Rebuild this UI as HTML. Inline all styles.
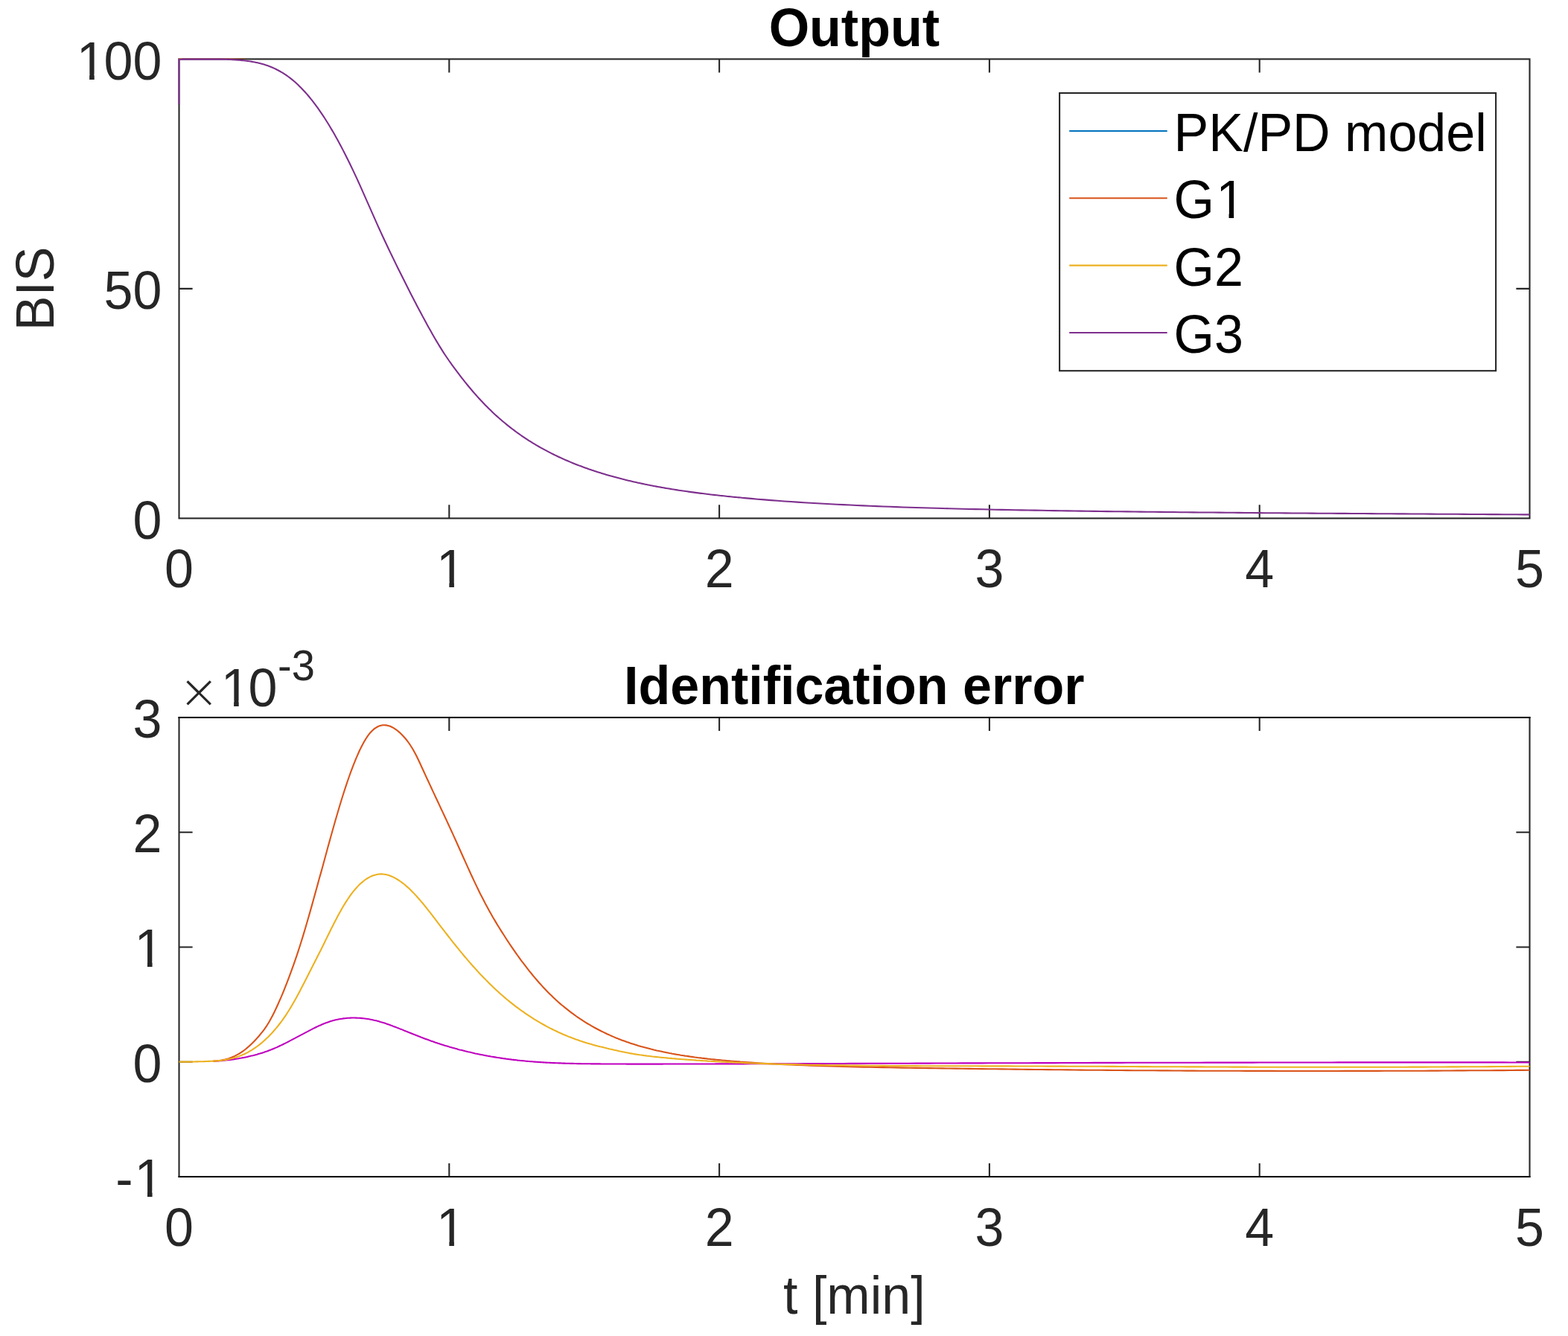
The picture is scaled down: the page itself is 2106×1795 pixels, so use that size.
<!DOCTYPE html>
<html lang="en"><head><meta charset="utf-8"><title>Output and identification error</title>
<style>html,body{margin:0;padding:0;background:#fff}body{width:2106px;height:1795px;overflow:hidden}svg{display:block}text{font-family:"Liberation Sans", sans-serif;white-space:pre}</style>
</head><body>
<svg width="2106" height="1795" viewBox="0 0 2106 1795" role="img" aria-label="Output and identification error plots">
<rect width="2106" height="1795" fill="#fff"/>
<path d="M603.30 696.40v-18.10M603.30 79.40v18.10M966.10 696.40v-18.10M966.10 79.40v18.10M1328.90 696.40v-18.10M1328.90 79.40v18.10M1691.70 696.40v-18.10M1691.70 79.40v18.10M240.50 387.90h18.10M2054.50 387.90h-18.10" stroke="#262626" stroke-width="2.08" fill="none"/>
<rect x="240.50" y="79.40" width="1814.00" height="617.00" fill="none" stroke="#262626" stroke-width="2.08"/>
<path d="M243.50 78.65H330.00" stroke="#D95319" stroke-opacity="0.55" stroke-width="1" fill="none"/>
<path d="M239.46 78.90H244.50" stroke="#EDB120" stroke-width="1.6" fill="none"/>
<path d="M240.40 140.50V79.65L250.00 79.65L251.88 79.65L253.76 79.65L255.64 79.65L257.52 79.65L259.40 79.65L261.28 79.65L263.16 79.65L265.04 79.65L266.92 79.65L268.80 79.65L270.68 79.65L272.56 79.65L274.44 79.65L276.32 79.65L278.20 79.65L280.08 79.65L281.95 79.65L283.83 79.65L285.71 79.65L287.59 79.65L289.47 79.65L291.35 79.65L293.23 79.65L295.11 79.65L296.99 79.65L298.87 79.66L300.75 79.69L302.63 79.74L304.51 79.79L306.39 79.86L308.27 79.93L310.15 80.02L312.03 80.12L313.91 80.22L315.79 80.35L317.67 80.48L319.55 80.63L321.43 80.78L323.31 80.96L325.19 81.14L327.07 81.34L328.95 81.56L330.83 81.78L332.71 82.02L334.59 82.28L336.47 82.56L338.35 82.86L340.23 83.19L342.11 83.54L343.98 83.91L345.86 84.32L347.74 84.75L349.62 85.22L351.50 85.72L353.38 86.25L355.26 86.82L357.14 87.43L359.02 88.07L360.90 88.76L362.78 89.48L364.66 90.25L366.54 91.06L368.42 91.91L370.30 92.80L372.18 93.75L374.06 94.73L375.94 95.76L377.82 96.84L379.70 97.97L381.58 99.14L383.46 100.37L385.34 101.65L387.22 102.98L389.10 104.38L390.98 105.83L392.86 107.36L394.74 108.94L396.62 110.58L398.50 112.29L400.38 114.06L402.26 115.88L404.14 117.77L406.02 119.71L407.89 121.71L409.77 123.76L411.65 125.88L413.53 128.05L415.41 130.29L417.29 132.58L419.17 134.93L421.05 137.35L422.93 139.82L424.81 142.35L426.69 144.94L428.57 147.60L430.45 150.31L432.33 153.08L434.21 155.92L436.09 158.80L437.97 161.75L439.85 164.76L441.73 167.81L443.61 170.93L445.49 174.10L447.37 177.32L449.25 180.60L451.13 183.93L453.01 187.32L454.89 190.75L456.77 194.24L458.65 197.78L460.53 201.37L462.41 205.01L464.29 208.70L466.17 212.44L468.05 216.22L469.92 220.06L471.80 223.94L473.68 227.86L475.56 231.84L477.44 235.86L479.32 239.92L481.20 244.03L483.08 248.19L484.96 252.37L486.84 256.59L488.72 260.83L490.60 265.08L492.48 269.35L494.36 273.62L496.24 277.90L498.12 282.18L500.00 286.44L501.88 290.70L503.76 294.93L505.64 299.15L507.52 303.34L509.40 307.50L511.28 311.62L513.16 315.71L515.04 319.77L516.92 323.80L518.80 327.80L520.68 331.77L522.56 335.71L524.44 339.63L526.32 343.53L528.20 347.41L530.08 351.27L531.95 355.11L533.83 358.93L535.71 362.74L537.59 366.53L539.47 370.31L541.35 374.08L543.23 377.84L545.11 381.58L546.99 385.31L548.87 389.03L550.75 392.73L552.63 396.41L554.51 400.07L556.39 403.71L558.27 407.34L560.15 410.94L562.03 414.52L563.91 418.08L565.79 421.61L567.67 425.12L569.55 428.61L571.43 432.06L573.31 435.49L575.19 438.90L577.07 442.27L578.95 445.61L580.83 448.92L582.71 452.19L584.59 455.42L586.47 458.60L588.35 461.74L590.23 464.84L592.11 467.88L593.98 470.88L595.86 473.82L597.74 476.70L599.62 479.52L601.50 482.29L603.38 484.99L605.26 487.65L607.14 490.27L609.02 492.85L610.90 495.41L612.78 497.94L614.66 500.44L616.54 502.92L618.42 505.37L620.30 507.79L622.18 510.19L624.06 512.56L625.94 514.91L627.82 517.22L629.70 519.51L631.58 521.77L633.46 524.00L635.34 526.20L637.22 528.37L639.10 530.51L640.98 532.63L642.86 534.71L644.74 536.77L646.62 538.79L648.50 540.78L650.38 542.75L652.26 544.68L654.14 546.58L656.02 548.46L657.89 550.30L659.77 552.12L661.65 553.91L663.53 555.67L665.41 557.40L667.29 559.11L669.17 560.79L671.05 562.45L672.93 564.08L674.81 565.68L676.69 567.26L678.57 568.82L680.45 570.35L682.33 571.87L684.21 573.35L686.09 574.82L687.97 576.26L689.85 577.68L691.73 579.09L693.61 580.47L695.49 581.82L697.37 583.16L699.25 584.48L701.13 585.78L703.01 587.07L704.89 588.33L706.77 589.57L708.65 590.80L710.53 592.01L712.41 593.20L714.29 594.37L716.17 595.52L718.05 596.66L719.92 597.78L721.80 598.89L723.68 599.98L725.56 601.05L727.44 602.11L729.32 603.16L731.20 604.18L733.08 605.20L734.96 606.20L736.84 607.18L738.72 608.15L740.60 609.11L742.48 610.05L744.36 610.98L746.24 611.89L748.12 612.80L750.00 613.69L751.88 614.56L753.76 615.43L755.64 616.28L757.52 617.12L759.40 617.95L761.28 618.77L763.16 619.57L765.04 620.37L766.92 621.15L768.80 621.92L770.68 622.68L772.56 623.43L774.44 624.18L776.32 624.91L778.20 625.63L780.08 626.34L781.95 627.04L783.83 627.73L785.71 628.41L787.59 629.09L789.47 629.75L791.35 630.40L793.23 631.05L795.11 631.69L796.99 632.32L798.87 632.94L800.75 633.55L802.63 634.16L804.51 634.76L806.39 635.35L808.27 635.93L810.15 636.50L812.03 637.07L813.91 637.63L815.79 638.18L817.67 638.73L819.55 639.26L821.43 639.79L823.31 640.32L825.19 640.84L827.07 641.35L828.95 641.85L830.83 642.35L832.71 642.84L834.59 643.32L836.47 643.80L838.35 644.27L840.23 644.74L842.11 645.20L843.98 645.65L845.86 646.10L847.74 646.55L849.62 646.98L851.50 647.41L853.38 647.84L855.26 648.26L857.14 648.68L859.02 649.09L860.90 649.49L862.78 649.89L864.66 650.28L866.54 650.67L868.42 651.06L870.30 651.44L872.18 651.81L874.06 652.18L875.94 652.55L877.82 652.91L879.70 653.26L881.58 653.61L883.46 653.96L885.34 654.30L887.22 654.64L889.10 654.98L890.98 655.31L892.86 655.63L894.74 655.95L896.62 656.27L898.50 656.59L900.38 656.90L902.26 657.20L904.14 657.51L906.02 657.80L907.89 658.10L909.77 658.39L911.65 658.68L913.53 658.96L915.41 659.25L917.29 659.52L919.17 659.80L921.05 660.07L922.93 660.34L924.81 660.60L926.69 660.86L928.57 661.12L930.45 661.38L932.33 661.63L934.21 661.88L936.09 662.13L937.97 662.37L939.85 662.61L941.73 662.85L943.61 663.09L945.49 663.32L947.37 663.55L949.25 663.78L951.13 664.00L953.01 664.23L954.89 664.45L956.77 664.67L958.65 664.88L960.53 665.10L962.41 665.31L964.29 665.52L966.17 665.72L968.05 665.93L969.92 666.13L971.80 666.33L973.68 666.53L975.56 666.72L977.44 666.92L979.32 667.11L981.20 667.30L983.08 667.49L984.96 667.68L986.84 667.86L988.72 668.04L990.60 668.23L992.48 668.41L994.36 668.58L996.24 668.76L998.12 668.93L1000.00 669.11L1008.86 669.90L1017.72 670.67L1026.58 671.40L1035.45 672.10L1044.31 672.77L1053.17 673.42L1062.03 674.04L1070.89 674.63L1079.75 675.20L1088.61 675.74L1097.47 676.27L1106.34 676.77L1115.20 677.25L1124.06 677.71L1132.92 678.16L1141.78 678.58L1150.64 678.99L1159.50 679.38L1168.37 679.76L1177.23 680.12L1186.09 680.46L1194.95 680.80L1203.81 681.12L1212.67 681.42L1221.53 681.72L1230.39 682.00L1239.26 682.27L1248.12 682.54L1256.98 682.79L1265.84 683.03L1274.70 683.27L1283.56 683.49L1292.42 683.71L1301.29 683.92L1310.15 684.12L1319.01 684.31L1327.87 684.50L1336.73 684.69L1345.59 684.86L1354.45 685.03L1363.32 685.20L1372.18 685.36L1381.04 685.51L1389.90 685.66L1398.76 685.81L1407.62 685.95L1416.48 686.09L1425.34 686.23L1434.21 686.36L1443.07 686.49L1451.93 686.62L1460.79 686.74L1469.65 686.86L1478.51 686.97L1487.37 687.09L1496.24 687.20L1505.10 687.31L1513.96 687.41L1522.82 687.51L1531.68 687.61L1540.54 687.71L1549.40 687.81L1558.26 687.90L1567.13 687.99L1575.99 688.08L1584.85 688.17L1593.71 688.26L1602.57 688.34L1611.43 688.42L1620.29 688.50L1629.16 688.58L1638.02 688.66L1646.88 688.74L1655.74 688.81L1664.60 688.88L1673.46 688.96L1682.32 689.03L1691.18 689.10L1700.05 689.17L1708.91 689.23L1717.77 689.30L1726.63 689.36L1735.49 689.43L1744.35 689.49L1753.21 689.55L1762.08 689.62L1770.94 689.68L1779.80 689.74L1788.66 689.80L1797.52 689.86L1806.38 689.91L1815.24 689.97L1824.11 690.03L1832.97 690.08L1841.83 690.14L1850.69 690.19L1859.55 690.25L1868.41 690.30L1877.27 690.36L1886.13 690.41L1895.00 690.46L1903.86 690.52L1912.72 690.57L1921.58 690.62L1930.44 690.67L1939.30 690.73L1948.16 690.78L1957.03 690.83L1965.89 690.88L1974.75 690.93L1983.61 690.98L1992.47 691.03L2001.33 691.09L2010.19 691.14L2019.05 691.19L2027.92 691.24L2036.78 691.29L2045.64 691.34L2054.50 691.39" fill="none" stroke="#7E2F8E" stroke-width="2.08" stroke-linejoin="miter"/>
<g transform="translate(217.40 724.00) scale(1 1.0250)">
<text x="-38.93" y="0" font-size="70.00" fill="#262626">0</text>
</g>
<g transform="translate(217.40 415.00) scale(1 1.0250)">
<text x="-77.86 -38.93" y="0" font-size="70.00" fill="#262626">50</text>
</g>
<g transform="translate(217.40 107.00) scale(1 1.0250)">
<text x="-114.69 -77.86 -38.93" y="0" font-size="70.00" fill="#262626">100</text>
<rect x="-110.56" y="-7.43" width="13.27" height="8.63" fill="#fff"/>
<rect x="-90.70" y="-7.43" width="12.72" height="8.63" fill="#fff"/>
</g>
<g transform="translate(240.50 789.20) scale(1 1.0250)">
<text x="-19.47" y="0" font-size="70.00" fill="#262626">0</text>
</g>
<g transform="translate(603.30 789.20) scale(1 1.0250)">
<text x="-17.37" y="0" font-size="70.00" fill="#262626">1</text>
<rect x="-13.23" y="-7.43" width="13.27" height="8.63" fill="#fff"/>
<rect x="6.62" y="-7.43" width="12.72" height="8.63" fill="#fff"/>
</g>
<g transform="translate(966.10 789.20) scale(1 1.0250)">
<text x="-19.47" y="0" font-size="70.00" fill="#262626">2</text>
</g>
<g transform="translate(1328.90 789.20) scale(1 1.0250)">
<text x="-19.47" y="0" font-size="70.00" fill="#262626">3</text>
</g>
<g transform="translate(1691.70 789.20) scale(1 1.0250)">
<text x="-19.47" y="0" font-size="70.00" fill="#262626">4</text>
</g>
<g transform="translate(2054.50 789.20) scale(1 1.0250)">
<text x="-19.47" y="0" font-size="70.00" fill="#262626">5</text>
</g>
<text transform="translate(71.80 387.90) rotate(-90) scale(1 1.0400)" text-anchor="middle" font-size="70.00" font-weight="normal" fill="#262626">BIS</text>
<text transform="translate(1147.30 62.00) scale(1 1.0400)" text-anchor="middle" font-size="70.00" font-weight="bold" fill="#000">Output</text>
<rect x="1423.10" y="125.00" width="586.00" height="373.20" fill="#fff" stroke="#262626" stroke-width="2.08"/>
<path d="M1436.2 176.00H1567.7" stroke="#0072BD" stroke-width="2.08"/>
<text transform="translate(1576.60 203.10) scale(1 1.0400)" text-anchor="start" font-size="70.00" font-weight="normal" fill="#000">PK/PD model</text>
<path d="M1436.2 266.33H1567.7" stroke="#D95319" stroke-width="2.08"/>
<g transform="translate(1576.60 293.45) scale(1 1.0400)">
<text x="0.00 56.55" y="0" font-size="70.00" fill="#000">G1</text>
<rect x="60.68" y="-7.43" width="13.27" height="8.63" fill="#fff"/>
<rect x="80.54" y="-7.43" width="12.72" height="8.63" fill="#fff"/>
</g>
<path d="M1436.2 356.66H1567.7" stroke="#EDB120" stroke-width="2.08"/>
<text transform="translate(1576.60 383.80) scale(1 1.0400)" text-anchor="start" font-size="70.00" font-weight="normal" fill="#000">G2</text>
<path d="M1436.2 446.99H1567.7" stroke="#7E2F8E" stroke-width="2.08"/>
<text transform="translate(1576.60 474.15) scale(1 1.0400)" text-anchor="start" font-size="70.00" font-weight="normal" fill="#000">G3</text>
<path d="M603.30 1581.00v-18.10M603.30 964.00v18.10M966.10 1581.00v-18.10M966.10 964.00v18.10M1328.90 1581.00v-18.10M1328.90 964.00v18.10M1691.70 1581.00v-18.10M1691.70 964.00v18.10M240.50 1426.75h18.10M2054.50 1426.75h-18.10M240.50 1272.50h18.10M2054.50 1272.50h-18.10M240.50 1118.25h18.10M2054.50 1118.25h-18.10" stroke="#262626" stroke-width="2.08" fill="none"/>
<rect x="240.50" y="964.00" width="1814.00" height="617.00" fill="none" stroke="#262626" stroke-width="2.08"/>
<path d="M239.46 964.00H2055.54M239.46 1581.00H2055.54" stroke="#0a0a0a" stroke-width="2.08" fill="none"/>
<path d="M286.2 1425.8L288.1 1425.7L290.0 1425.6L291.9 1425.5L293.8 1425.4L295.7 1425.2L297.6 1425.1L299.5 1424.9L301.4 1424.7L303.3 1424.5L305.2 1424.3L307.1 1424.1L309.0 1423.9L310.9 1423.6L312.8 1423.4L314.7 1423.1L316.6 1422.8L318.5 1422.5L320.4 1422.2L322.4 1421.8L324.3 1421.5L326.2 1421.1L328.1 1420.8L330.0 1420.4L331.9 1420.0L333.8 1419.5L335.7 1419.1L337.6 1418.6L339.5 1418.2L341.4 1417.7L343.3 1417.2L345.2 1416.7L347.1 1416.1L349.0 1415.6L350.9 1415.0L352.8 1414.4L354.7 1413.8L356.6 1413.1L358.5 1412.5L360.4 1411.8L362.3 1411.0L364.2 1410.3L366.1 1409.5L368.0 1408.7L369.9 1407.9L371.8 1407.1L373.7 1406.2L375.6 1405.3L377.6 1404.4L379.5 1403.5L381.4 1402.5L383.3 1401.6L385.2 1400.6L387.1 1399.7L389.0 1398.7L390.9 1397.7L392.8 1396.7L394.7 1395.7L396.6 1394.7L398.5 1393.7L400.4 1392.7L402.3 1391.7L404.2 1390.6L406.1 1389.6L408.0 1388.6L409.9 1387.6L411.8 1386.6L413.7 1385.6L415.6 1384.6L417.5 1383.6L419.4 1382.6L421.3 1381.6L423.2 1380.7L425.1 1379.8L427.0 1378.9L428.9 1378.0L430.9 1377.2L432.8 1376.3L434.7 1375.5L436.6 1374.8L438.5 1374.1L440.4 1373.4L442.3 1372.7L444.2 1372.1L446.1 1371.6L448.0 1371.0L449.9 1370.5L451.8 1370.1L453.7 1369.7L455.6 1369.3L457.5 1369.0L459.4 1368.7L461.3 1368.4L463.2 1368.2L465.1 1368.0L467.0 1367.8L468.9 1367.7L470.8 1367.6L472.7 1367.5L474.6 1367.5L476.5 1367.5L478.4 1367.6L480.3 1367.7L482.2 1367.8L484.1 1367.9L486.1 1368.1L488.0 1368.3L489.9 1368.5L491.8 1368.7L493.7 1369.0L495.6 1369.3L497.5 1369.7L499.4 1370.1L501.3 1370.5L503.2 1370.9L505.1 1371.3L507.0 1371.8L508.9 1372.3L510.8 1372.9L512.7 1373.4L514.6 1374.0L516.5 1374.6L518.4 1375.3L520.3 1375.9L522.2 1376.6L524.1 1377.2L526.0 1377.9L527.9 1378.7L529.8 1379.4L531.7 1380.1L533.6 1380.9L535.5 1381.6L537.4 1382.4L539.4 1383.1L541.3 1383.9L543.2 1384.7L545.1 1385.4L547.0 1386.2L548.9 1387.0L550.8 1387.7L552.7 1388.5L554.6 1389.3L556.5 1390.0L558.4 1390.8L560.3 1391.5L562.2 1392.3L564.1 1393.0L566.0 1393.8L567.9 1394.5L569.8 1395.2L571.7 1395.9L573.6 1396.6L575.5 1397.3L577.4 1398.0L579.3 1398.7L581.2 1399.3L583.1 1400.0L585.0 1400.7L586.9 1401.3L588.8 1401.9L590.7 1402.6L592.6 1403.2L594.6 1403.8L596.5 1404.4L598.4 1405.0L600.3 1405.5L602.2 1406.1L604.1 1406.7L606.0 1407.2L607.9 1407.8L609.8 1408.3L611.7 1408.8L613.6 1409.3L615.5 1409.9L617.4 1410.4L619.3 1410.8L621.2 1411.3L623.1 1411.8L625.0 1412.3L626.9 1412.7L628.8 1413.2L630.7 1413.6L632.6 1414.1L634.5 1414.5L636.4 1414.9L638.3 1415.4L640.2 1415.8L642.1 1416.2L644.0 1416.6L645.9 1416.9L647.9 1417.3L649.8 1417.7L651.7 1418.1L653.6 1418.4L655.5 1418.8L657.4 1419.1L659.3 1419.5L661.2 1419.8L663.1 1420.1L665.0 1420.4L666.9 1420.7L668.8 1421.0L670.7 1421.3L672.6 1421.6L674.5 1421.9L676.4 1422.2L678.3 1422.4L680.2 1422.7L682.1 1422.9L684.0 1423.2L685.9 1423.4L687.8 1423.7L689.7 1423.9L691.6 1424.1L693.5 1424.3L695.4 1424.6L697.3 1424.8L699.2 1425.0L701.1 1425.1L703.1 1425.3L705.0 1425.5L706.9 1425.7L708.8 1425.9L710.7 1426.0L712.6 1426.2L714.5 1426.3L716.4 1426.5L718.3 1426.6L720.2 1426.8L722.1 1426.9L724.0 1427.0L725.9 1427.1L727.8 1427.3L729.7 1427.4L731.6 1427.5L733.5 1427.6L735.4 1427.7L737.3 1427.8L739.2 1427.9L741.1 1428.0L743.0 1428.1L744.9 1428.1L746.8 1428.2L748.7 1428.3L750.6 1428.4L752.5 1428.4L754.4 1428.5L756.4 1428.6L758.3 1428.6L760.2 1428.7L762.1 1428.8L764.0 1428.8L765.9 1428.9L767.8 1428.9L769.7 1428.9L771.6 1429.0L773.5 1429.0L775.4 1429.1L777.3 1429.1L779.2 1429.1L781.1 1429.2L783.0 1429.2L784.9 1429.2L786.8 1429.3L788.7 1429.3L790.6 1429.3L792.5 1429.3L794.4 1429.4L796.3 1429.4L798.2 1429.4L800.1 1429.4L802.0 1429.4L803.9 1429.4L805.8 1429.4L807.7 1429.5L809.6 1429.5L811.6 1429.5L813.5 1429.5L815.4 1429.5L817.3 1429.5L819.2 1429.5L821.1 1429.5L823.0 1429.5L824.9 1429.5L826.8 1429.5L828.7 1429.5L830.6 1429.5L832.5 1429.5L834.4 1429.5L836.3 1429.5L838.2 1429.5L840.1 1429.5L842.0 1429.6L843.9 1429.6L845.8 1429.6L847.7 1429.6L849.6 1429.6L851.5 1429.6L853.4 1429.6L855.3 1429.6L857.2 1429.6L859.1 1429.6L861.0 1429.6L862.9 1429.6L864.9 1429.6L866.8 1429.6L868.7 1429.6L870.6 1429.6L872.5 1429.6L874.4 1429.6L876.3 1429.6L878.2 1429.6L880.1 1429.6L882.0 1429.6L883.9 1429.6L885.8 1429.6L887.7 1429.6L889.6 1429.6L891.5 1429.5L893.4 1429.5L895.3 1429.5L897.2 1429.5L899.1 1429.5L901.0 1429.5L902.9 1429.5L904.8 1429.5L906.7 1429.5L908.6 1429.5L910.5 1429.5L912.4 1429.5L914.3 1429.5L916.2 1429.5L918.1 1429.5L920.1 1429.5L922.0 1429.5L923.9 1429.5L925.8 1429.5L927.7 1429.5L929.6 1429.5L931.5 1429.5L933.4 1429.5L935.3 1429.5L937.2 1429.5L939.1 1429.5L941.0 1429.5L942.9 1429.5L944.8 1429.5L946.7 1429.5L948.6 1429.5L950.5 1429.5L952.4 1429.5L954.3 1429.5L956.2 1429.5L958.1 1429.5L960.0 1429.5L961.9 1429.4L963.8 1429.4L965.7 1429.4L967.6 1429.4L969.5 1429.4L971.4 1429.4L973.4 1429.4L975.3 1429.4L977.2 1429.4L979.1 1429.4L981.0 1429.4L982.9 1429.4L984.8 1429.4L986.7 1429.4L988.6 1429.4L990.5 1429.4L992.4 1429.4L994.3 1429.4L996.2 1429.4L998.1 1429.4L1000.0 1429.4L1008.9 1429.3L1017.7 1429.3L1026.6 1429.3L1035.4 1429.3L1044.3 1429.2L1053.2 1429.2L1062.0 1429.2L1070.9 1429.2L1079.8 1429.1L1088.6 1429.1L1097.5 1429.1L1106.3 1429.0L1115.2 1429.0L1124.1 1429.0L1132.9 1429.0L1141.8 1428.9L1150.6 1428.9L1159.5 1428.9L1168.4 1428.8L1177.2 1428.8L1186.1 1428.8L1194.9 1428.8L1203.8 1428.7L1212.7 1428.7L1221.5 1428.7L1230.4 1428.6L1239.3 1428.6L1248.1 1428.6L1257.0 1428.5L1265.8 1428.5L1274.7 1428.5L1283.6 1428.5L1292.4 1428.4L1301.3 1428.4L1310.1 1428.4L1319.0 1428.4L1327.9 1428.3L1336.7 1428.3L1345.6 1428.3L1354.5 1428.2L1363.3 1428.2L1372.2 1428.2L1381.0 1428.2L1389.9 1428.1L1398.8 1428.1L1407.6 1428.1L1416.5 1428.1L1425.3 1428.0L1434.2 1428.0L1443.1 1428.0L1451.9 1428.0L1460.8 1428.0L1469.7 1427.9L1478.5 1427.9L1487.4 1427.9L1496.2 1427.9L1505.1 1427.9L1514.0 1427.8L1522.8 1427.8L1531.7 1427.8L1540.5 1427.8L1549.4 1427.8L1558.3 1427.7L1567.1 1427.7L1576.0 1427.7L1584.8 1427.7L1593.7 1427.7L1602.6 1427.7L1611.4 1427.7L1620.3 1427.6L1629.2 1427.6L1638.0 1427.6L1646.9 1427.6L1655.7 1427.6L1664.6 1427.6L1673.5 1427.6L1682.3 1427.6L1691.2 1427.5L1700.0 1427.5L1708.9 1427.5L1717.8 1427.5L1726.6 1427.5L1735.5 1427.5L1744.4 1427.5L1753.2 1427.5L1762.1 1427.5L1770.9 1427.5L1779.8 1427.5L1788.7 1427.5L1797.5 1427.4L1806.4 1427.4L1815.2 1427.4L1824.1 1427.4L1833.0 1427.4L1841.8 1427.4L1850.7 1427.4L1859.6 1427.4L1868.4 1427.4L1877.3 1427.4L1886.1 1427.4L1895.0 1427.4L1903.9 1427.4L1912.7 1427.4L1921.6 1427.4L1930.4 1427.4L1939.3 1427.4L1948.2 1427.4L1957.0 1427.4L1965.9 1427.4L1974.7 1427.4L1983.6 1427.4L1992.5 1427.4L2001.3 1427.4L2010.2 1427.4L2019.1 1427.4L2027.9 1427.5L2036.8 1427.5L2045.6 1427.5L2054.5 1427.5" fill="none" stroke="#BF00BF" stroke-width="2.08" stroke-linejoin="round"/>
<path d="M286.2 1425.7L288.1 1425.6L290.0 1425.4L291.9 1425.2L293.8 1425.0L295.7 1424.8L297.6 1424.5L299.5 1424.1L301.4 1423.7L303.3 1423.3L305.2 1422.7L307.1 1422.2L309.0 1421.5L310.9 1420.8L312.8 1420.0L314.7 1419.2L316.6 1418.2L318.5 1417.2L320.4 1416.1L322.4 1415.0L324.3 1413.7L326.2 1412.4L328.1 1411.0L330.0 1409.5L331.9 1407.9L333.8 1406.3L335.7 1404.6L337.6 1402.8L339.5 1400.9L341.4 1399.0L343.3 1397.0L345.2 1394.9L347.1 1392.8L349.0 1390.5L350.9 1388.2L352.8 1385.8L354.7 1383.3L356.6 1380.6L358.5 1377.8L360.4 1374.7L362.3 1371.5L364.2 1368.0L366.1 1364.4L368.0 1360.7L369.9 1356.8L371.8 1352.7L373.7 1348.5L375.6 1344.2L377.6 1339.7L379.5 1335.2L381.4 1330.5L383.3 1325.7L385.2 1320.8L387.1 1315.8L389.0 1310.8L390.9 1305.6L392.8 1300.4L394.7 1295.1L396.6 1289.6L398.5 1284.1L400.4 1278.4L402.3 1272.5L404.2 1266.5L406.1 1260.4L408.0 1254.1L409.9 1247.8L411.8 1241.3L413.7 1234.8L415.6 1228.1L417.5 1221.4L419.4 1214.6L421.3 1207.8L423.2 1200.9L425.1 1194.0L427.0 1187.1L428.9 1180.1L430.9 1173.1L432.8 1166.2L434.7 1159.2L436.6 1152.2L438.5 1145.2L440.4 1138.3L442.3 1131.4L444.2 1124.5L446.1 1117.7L448.0 1111.0L449.9 1104.3L451.8 1097.7L453.7 1091.2L455.6 1084.8L457.5 1078.5L459.4 1072.3L461.3 1066.3L463.2 1060.4L465.1 1054.6L467.0 1049.0L468.9 1043.5L470.8 1038.2L472.7 1033.1L474.6 1028.1L476.5 1023.3L478.4 1018.7L480.3 1014.3L482.2 1010.0L484.1 1005.9L486.1 1002.1L488.0 998.5L489.9 995.1L491.8 992.0L493.7 989.1L495.6 986.5L497.5 984.2L499.4 982.2L501.3 980.4L503.2 978.9L505.1 977.6L507.0 976.5L508.9 975.6L510.8 975.0L512.7 974.5L514.6 974.3L516.5 974.3L518.4 974.4L520.3 974.7L522.2 975.2L524.1 975.8L526.0 976.7L527.9 977.6L529.8 978.8L531.7 980.1L533.6 981.5L535.5 983.1L537.4 984.8L539.4 986.7L541.3 988.7L543.2 990.8L545.1 993.0L547.0 995.4L548.9 998.0L550.8 1000.7L552.7 1003.7L554.6 1006.8L556.5 1010.2L558.4 1013.8L560.3 1017.5L562.2 1021.5L564.1 1025.5L566.0 1029.7L567.9 1033.8L569.8 1038.0L571.7 1042.1L573.6 1046.2L575.5 1050.3L577.4 1054.4L579.3 1058.5L581.2 1062.6L583.1 1066.6L585.0 1070.7L586.9 1074.8L588.8 1078.8L590.7 1082.9L592.6 1087.0L594.6 1091.1L596.5 1095.2L598.4 1099.2L600.3 1103.4L602.2 1107.5L604.1 1111.6L606.0 1115.7L607.9 1119.9L609.8 1124.1L611.7 1128.3L613.6 1132.5L615.5 1136.7L617.4 1141.0L619.3 1145.2L621.2 1149.5L623.1 1153.7L625.0 1157.9L626.9 1162.2L628.8 1166.4L630.7 1170.5L632.6 1174.7L634.5 1178.8L636.4 1182.9L638.3 1186.9L640.2 1190.9L642.1 1194.8L644.0 1198.7L645.9 1202.6L647.9 1206.3L649.8 1210.0L651.7 1213.7L653.6 1217.2L655.5 1220.7L657.4 1224.2L659.3 1227.6L661.2 1230.9L663.1 1234.2L665.0 1237.4L666.9 1240.6L668.8 1243.7L670.7 1246.8L672.6 1249.9L674.5 1252.9L676.4 1255.8L678.3 1258.8L680.2 1261.7L682.1 1264.6L684.0 1267.5L685.9 1270.3L687.8 1273.1L689.7 1275.9L691.6 1278.6L693.5 1281.3L695.4 1284.0L697.3 1286.7L699.2 1289.3L701.1 1291.9L703.1 1294.4L705.0 1296.9L706.9 1299.4L708.8 1301.9L710.7 1304.3L712.6 1306.7L714.5 1309.0L716.4 1311.3L718.3 1313.6L720.2 1315.8L722.1 1318.0L724.0 1320.2L725.9 1322.3L727.8 1324.4L729.7 1326.5L731.6 1328.5L733.5 1330.5L735.4 1332.5L737.3 1334.4L739.2 1336.3L741.1 1338.1L743.0 1339.9L744.9 1341.7L746.8 1343.5L748.7 1345.2L750.6 1346.9L752.5 1348.6L754.4 1350.2L756.4 1351.8L758.3 1353.4L760.2 1354.9L762.1 1356.4L764.0 1357.9L765.9 1359.4L767.8 1360.8L769.7 1362.2L771.6 1363.6L773.5 1365.0L775.4 1366.3L777.3 1367.6L779.2 1368.9L781.1 1370.1L783.0 1371.4L784.9 1372.6L786.8 1373.8L788.7 1375.0L790.6 1376.1L792.5 1377.2L794.4 1378.3L796.3 1379.4L798.2 1380.5L800.1 1381.5L802.0 1382.5L803.9 1383.5L805.8 1384.5L807.7 1385.5L809.6 1386.4L811.6 1387.4L813.5 1388.3L815.4 1389.2L817.3 1390.0L819.2 1390.9L821.1 1391.7L823.0 1392.6L824.9 1393.4L826.8 1394.2L828.7 1394.9L830.6 1395.7L832.5 1396.4L834.4 1397.2L836.3 1397.9L838.2 1398.6L840.1 1399.3L842.0 1400.0L843.9 1400.6L845.8 1401.3L847.7 1401.9L849.6 1402.5L851.5 1403.1L853.4 1403.7L855.3 1404.3L857.2 1404.9L859.1 1405.4L861.0 1406.0L862.9 1406.5L864.9 1407.1L866.8 1407.6L868.7 1408.1L870.6 1408.6L872.5 1409.1L874.4 1409.6L876.3 1410.0L878.2 1410.5L880.1 1410.9L882.0 1411.4L883.9 1411.8L885.8 1412.2L887.7 1412.6L889.6 1413.0L891.5 1413.4L893.4 1413.8L895.3 1414.2L897.2 1414.6L899.1 1415.0L901.0 1415.3L902.9 1415.7L904.8 1416.0L906.7 1416.4L908.6 1416.7L910.5 1417.0L912.4 1417.3L914.3 1417.7L916.2 1418.0L918.1 1418.3L920.1 1418.6L922.0 1418.8L923.9 1419.1L925.8 1419.4L927.7 1419.7L929.6 1419.9L931.5 1420.2L933.4 1420.5L935.3 1420.7L937.2 1421.0L939.1 1421.2L941.0 1421.4L942.9 1421.7L944.8 1421.9L946.7 1422.1L948.6 1422.3L950.5 1422.6L952.4 1422.8L954.3 1423.0L956.2 1423.2L958.1 1423.4L960.0 1423.6L961.9 1423.8L963.8 1424.0L965.7 1424.1L967.6 1424.3L969.5 1424.5L971.4 1424.7L973.4 1424.8L975.3 1425.0L977.2 1425.2L979.1 1425.3L981.0 1425.5L982.9 1425.7L984.8 1425.8L986.7 1426.0L988.6 1426.1L990.5 1426.3L992.4 1426.4L994.3 1426.6L996.2 1426.7L998.1 1426.9L1000.0 1427.0L1008.9 1427.6L1017.7 1428.2L1026.6 1428.7L1035.4 1429.2L1044.3 1429.7L1053.2 1430.1L1062.0 1430.5L1070.9 1430.9L1079.8 1431.3L1088.6 1431.6L1097.5 1431.9L1106.3 1432.2L1115.2 1432.5L1124.1 1432.7L1132.9 1433.0L1141.8 1433.2L1150.6 1433.4L1159.5 1433.6L1168.4 1433.8L1177.2 1434.0L1186.1 1434.1L1194.9 1434.3L1203.8 1434.4L1212.7 1434.6L1221.5 1434.7L1230.4 1434.9L1239.3 1435.0L1248.1 1435.1L1257.0 1435.2L1265.8 1435.4L1274.7 1435.5L1283.6 1435.6L1292.4 1435.7L1301.3 1435.9L1310.1 1436.0L1319.0 1436.1L1327.9 1436.2L1336.7 1436.3L1345.6 1436.4L1354.5 1436.5L1363.3 1436.6L1372.2 1436.8L1381.0 1436.9L1389.9 1437.0L1398.8 1437.0L1407.6 1437.1L1416.5 1437.2L1425.3 1437.3L1434.2 1437.4L1443.1 1437.5L1451.9 1437.6L1460.8 1437.7L1469.7 1437.7L1478.5 1437.8L1487.4 1437.9L1496.2 1438.0L1505.1 1438.0L1514.0 1438.1L1522.8 1438.2L1531.7 1438.2L1540.5 1438.3L1549.4 1438.3L1558.3 1438.4L1567.1 1438.4L1576.0 1438.5L1584.8 1438.5L1593.7 1438.6L1602.6 1438.6L1611.4 1438.7L1620.3 1438.7L1629.2 1438.7L1638.0 1438.8L1646.9 1438.8L1655.7 1438.8L1664.6 1438.8L1673.5 1438.9L1682.3 1438.9L1691.2 1438.9L1700.0 1438.9L1708.9 1438.9L1717.8 1439.0L1726.6 1439.0L1735.5 1439.0L1744.4 1439.0L1753.2 1439.0L1762.1 1439.0L1770.9 1439.0L1779.8 1439.0L1788.7 1439.0L1797.5 1439.0L1806.4 1438.9L1815.2 1438.9L1824.1 1438.9L1833.0 1438.9L1841.8 1438.9L1850.7 1438.9L1859.6 1438.8L1868.4 1438.8L1877.3 1438.8L1886.1 1438.8L1895.0 1438.7L1903.9 1438.7L1912.7 1438.7L1921.6 1438.6L1930.4 1438.6L1939.3 1438.5L1948.2 1438.5L1957.0 1438.4L1965.9 1438.4L1974.7 1438.3L1983.6 1438.3L1992.5 1438.2L2001.3 1438.2L2010.2 1438.1L2019.1 1438.1L2027.9 1438.0L2036.8 1437.9L2045.6 1437.9L2054.5 1437.8" fill="none" stroke="#D95319" stroke-width="2.08" stroke-linejoin="round"/>
<path d="M240.5 1426.6L242.4 1426.6L244.3 1426.6L246.2 1426.6L248.1 1426.6L250.0 1426.6L251.9 1426.6L253.8 1426.6L255.7 1426.6L257.6 1426.6L259.5 1426.5L261.4 1426.5L263.3 1426.4L265.2 1426.4L267.1 1426.3L269.1 1426.3L271.0 1426.2L272.9 1426.2L274.8 1426.1L276.7 1426.0L278.6 1426.0L280.5 1425.9L282.4 1425.8L284.3 1425.7L286.2 1425.6L288.1 1425.5L290.0 1425.4L291.9 1425.3L293.8 1425.1L295.7 1424.9L297.6 1424.7L299.5 1424.5L301.4 1424.2L303.3 1423.9L305.2 1423.5L307.1 1423.1L309.0 1422.7L310.9 1422.3L312.8 1421.8L314.7 1421.2L316.6 1420.7L318.5 1420.0L320.4 1419.4L322.4 1418.6L324.3 1417.9L326.2 1417.0L328.1 1416.2L330.0 1415.3L331.9 1414.3L333.8 1413.3L335.7 1412.2L337.6 1411.1L339.5 1409.9L341.4 1408.6L343.3 1407.3L345.2 1406.0L347.1 1404.6L349.0 1403.1L350.9 1401.6L352.8 1400.0L354.7 1398.3L356.6 1396.6L358.5 1394.8L360.4 1393.0L362.3 1391.0L364.2 1389.1L366.1 1387.0L368.0 1384.8L369.9 1382.6L371.8 1380.3L373.7 1378.0L375.6 1375.5L377.6 1373.0L379.5 1370.4L381.4 1367.6L383.3 1364.9L385.2 1362.0L387.1 1359.0L389.0 1356.0L390.9 1352.9L392.8 1349.6L394.7 1346.3L396.6 1342.9L398.5 1339.5L400.4 1336.0L402.3 1332.4L404.2 1328.8L406.1 1325.1L408.0 1321.4L409.9 1317.7L411.8 1314.0L413.7 1310.3L415.6 1306.5L417.5 1302.8L419.4 1299.1L421.3 1295.3L423.2 1291.5L425.1 1287.8L427.0 1284.0L428.9 1280.2L430.9 1276.4L432.8 1272.5L434.7 1268.7L436.6 1264.8L438.5 1260.9L440.4 1257.0L442.3 1253.2L444.2 1249.3L446.1 1245.5L448.0 1241.8L449.9 1238.1L451.8 1234.4L453.7 1230.8L455.6 1227.3L457.5 1223.9L459.4 1220.5L461.3 1217.3L463.2 1214.1L465.1 1211.1L467.0 1208.2L468.9 1205.4L470.8 1202.7L472.7 1200.1L474.6 1197.7L476.5 1195.4L478.4 1193.2L480.3 1191.1L482.2 1189.1L484.1 1187.3L486.1 1185.6L488.0 1184.0L489.9 1182.5L491.8 1181.2L493.7 1180.0L495.6 1178.9L497.5 1177.9L499.4 1177.0L501.3 1176.3L503.2 1175.7L505.1 1175.2L507.0 1174.8L508.9 1174.5L510.8 1174.4L512.7 1174.4L514.6 1174.5L516.5 1174.7L518.4 1175.1L520.3 1175.5L522.2 1176.1L524.1 1176.8L526.0 1177.5L527.9 1178.4L529.8 1179.3L531.7 1180.4L533.6 1181.5L535.5 1182.7L537.4 1184.0L539.4 1185.4L541.3 1186.8L543.2 1188.3L545.1 1189.9L547.0 1191.6L548.9 1193.3L550.8 1195.1L552.7 1197.0L554.6 1198.9L556.5 1200.9L558.4 1202.9L560.3 1205.0L562.2 1207.2L564.1 1209.3L566.0 1211.6L567.9 1213.8L569.8 1216.1L571.7 1218.5L573.6 1220.9L575.5 1223.3L577.4 1225.7L579.3 1228.1L581.2 1230.6L583.1 1233.1L585.0 1235.6L586.9 1238.1L588.8 1240.6L590.7 1243.1L592.6 1245.6L594.6 1248.1L596.5 1250.6L598.4 1253.1L600.3 1255.5L602.2 1258.0L604.1 1260.4L606.0 1262.9L607.9 1265.3L609.8 1267.7L611.7 1270.0L613.6 1272.4L615.5 1274.7L617.4 1277.1L619.3 1279.4L621.2 1281.7L623.1 1284.0L625.0 1286.2L626.9 1288.4L628.8 1290.7L630.7 1292.9L632.6 1295.0L634.5 1297.2L636.4 1299.3L638.3 1301.4L640.2 1303.5L642.1 1305.6L644.0 1307.7L645.9 1309.7L647.9 1311.7L649.8 1313.7L651.7 1315.6L653.6 1317.6L655.5 1319.5L657.4 1321.4L659.3 1323.3L661.2 1325.1L663.1 1326.9L665.0 1328.7L666.9 1330.5L668.8 1332.2L670.7 1334.0L672.6 1335.7L674.5 1337.3L676.4 1339.0L678.3 1340.6L680.2 1342.2L682.1 1343.8L684.0 1345.4L685.9 1346.9L687.8 1348.4L689.7 1349.9L691.6 1351.4L693.5 1352.8L695.4 1354.2L697.3 1355.6L699.2 1357.0L701.1 1358.4L703.1 1359.7L705.0 1361.1L706.9 1362.4L708.8 1363.6L710.7 1364.9L712.6 1366.1L714.5 1367.4L716.4 1368.6L718.3 1369.8L720.2 1370.9L722.1 1372.1L724.0 1373.2L725.9 1374.3L727.8 1375.4L729.7 1376.5L731.6 1377.5L733.5 1378.6L735.4 1379.6L737.3 1380.6L739.2 1381.6L741.1 1382.5L743.0 1383.5L744.9 1384.4L746.8 1385.3L748.7 1386.2L750.6 1387.1L752.5 1388.0L754.4 1388.8L756.4 1389.7L758.3 1390.5L760.2 1391.3L762.1 1392.1L764.0 1392.9L765.9 1393.6L767.8 1394.3L769.7 1395.1L771.6 1395.8L773.5 1396.5L775.4 1397.1L777.3 1397.8L779.2 1398.5L781.1 1399.1L783.0 1399.7L784.9 1400.3L786.8 1400.9L788.7 1401.5L790.6 1402.0L792.5 1402.6L794.4 1403.1L796.3 1403.7L798.2 1404.2L800.1 1404.7L802.0 1405.2L803.9 1405.7L805.8 1406.2L807.7 1406.6L809.6 1407.1L811.6 1407.6L813.5 1408.0L815.4 1408.5L817.3 1408.9L819.2 1409.4L821.1 1409.8L823.0 1410.2L824.9 1410.7L826.8 1411.1L828.7 1411.5L830.6 1411.9L832.5 1412.4L834.4 1412.8L836.3 1413.2L838.2 1413.6L840.1 1414.0L842.0 1414.3L843.9 1414.7L845.8 1415.1L847.7 1415.4L849.6 1415.7L851.5 1416.1L853.4 1416.4L855.3 1416.7L857.2 1417.0L859.1 1417.3L861.0 1417.5L862.9 1417.8L864.9 1418.1L866.8 1418.3L868.7 1418.6L870.6 1418.8L872.5 1419.0L874.4 1419.2L876.3 1419.5L878.2 1419.7L880.1 1419.9L882.0 1420.1L883.9 1420.3L885.8 1420.5L887.7 1420.7L889.6 1420.9L891.5 1421.0L893.4 1421.2L895.3 1421.4L897.2 1421.6L899.1 1421.7L901.0 1421.9L902.9 1422.1L904.8 1422.2L906.7 1422.4L908.6 1422.6L910.5 1422.7L912.4 1422.9L914.3 1423.0L916.2 1423.2L918.1 1423.3L920.1 1423.5L922.0 1423.6L923.9 1423.8L925.8 1423.9L927.7 1424.0L929.6 1424.2L931.5 1424.3L933.4 1424.4L935.3 1424.6L937.2 1424.7L939.1 1424.8L941.0 1425.0L942.9 1425.1L944.8 1425.2L946.7 1425.3L948.6 1425.4L950.5 1425.6L952.4 1425.7L954.3 1425.8L956.2 1425.9L958.1 1426.0L960.0 1426.1L961.9 1426.2L963.8 1426.3L965.7 1426.4L967.6 1426.5L969.5 1426.6L971.4 1426.7L973.4 1426.8L975.3 1426.9L977.2 1427.0L979.1 1427.1L981.0 1427.2L982.9 1427.3L984.8 1427.4L986.7 1427.5L988.6 1427.6L990.5 1427.7L992.4 1427.8L994.3 1427.8L996.2 1427.9L998.1 1428.0L1000.0 1428.1L1008.9 1428.5L1017.7 1428.8L1026.6 1429.1L1035.4 1429.4L1044.3 1429.7L1053.2 1429.9L1062.0 1430.1L1070.9 1430.3L1079.8 1430.5L1088.6 1430.7L1097.5 1430.9L1106.3 1431.0L1115.2 1431.2L1124.1 1431.3L1132.9 1431.4L1141.8 1431.5L1150.6 1431.6L1159.5 1431.7L1168.4 1431.8L1177.2 1431.8L1186.1 1431.9L1194.9 1432.0L1203.8 1432.0L1212.7 1432.1L1221.5 1432.1L1230.4 1432.1L1239.3 1432.2L1248.1 1432.2L1257.0 1432.2L1265.8 1432.3L1274.7 1432.3L1283.6 1432.3L1292.4 1432.3L1301.3 1432.3L1310.1 1432.3L1319.0 1432.4L1327.9 1432.4L1336.7 1432.4L1345.6 1432.4L1354.5 1432.4L1363.3 1432.5L1372.2 1432.5L1381.0 1432.5L1389.9 1432.5L1398.8 1432.5L1407.6 1432.6L1416.5 1432.6L1425.3 1432.6L1434.2 1432.7L1443.1 1432.7L1451.9 1432.7L1460.8 1432.8L1469.7 1432.8L1478.5 1432.8L1487.4 1432.9L1496.2 1432.9L1505.1 1433.0L1514.0 1433.0L1522.8 1433.0L1531.7 1433.1L1540.5 1433.1L1549.4 1433.2L1558.3 1433.2L1567.1 1433.2L1576.0 1433.3L1584.8 1433.3L1593.7 1433.4L1602.6 1433.4L1611.4 1433.4L1620.3 1433.5L1629.2 1433.5L1638.0 1433.5L1646.9 1433.5L1655.7 1433.6L1664.6 1433.6L1673.5 1433.6L1682.3 1433.7L1691.2 1433.7L1700.0 1433.7L1708.9 1433.7L1717.8 1433.7L1726.6 1433.8L1735.5 1433.8L1744.4 1433.8L1753.2 1433.8L1762.1 1433.8L1770.9 1433.8L1779.8 1433.8L1788.7 1433.8L1797.5 1433.8L1806.4 1433.8L1815.2 1433.8L1824.1 1433.8L1833.0 1433.8L1841.8 1433.8L1850.7 1433.8L1859.6 1433.7L1868.4 1433.7L1877.3 1433.7L1886.1 1433.7L1895.0 1433.6L1903.9 1433.6L1912.7 1433.6L1921.6 1433.5L1930.4 1433.5L1939.3 1433.5L1948.2 1433.4L1957.0 1433.4L1965.9 1433.3L1974.7 1433.3L1983.6 1433.2L1992.5 1433.2L2001.3 1433.1L2010.2 1433.0L2019.1 1433.0L2027.9 1432.9L2036.8 1432.8L2045.6 1432.8L2054.5 1432.7" fill="none" stroke="#EDB120" stroke-width="2.08" stroke-linejoin="round"/>
<g transform="translate(217.40 1607.90) scale(1 1.0250)">
<text x="-62.24 -36.83" y="0" font-size="70.00" fill="#262626">-1</text>
<rect x="-32.70" y="-7.43" width="13.27" height="8.63" fill="#fff"/>
<rect x="-12.84" y="-7.43" width="12.72" height="8.63" fill="#fff"/>
</g>
<g transform="translate(217.40 1453.65) scale(1 1.0250)">
<text x="-38.93" y="0" font-size="70.00" fill="#262626">0</text>
</g>
<g transform="translate(217.40 1299.40) scale(1 1.0250)">
<text x="-36.83" y="0" font-size="70.00" fill="#262626">1</text>
<rect x="-32.70" y="-7.43" width="13.27" height="8.63" fill="#fff"/>
<rect x="-12.84" y="-7.43" width="12.72" height="8.63" fill="#fff"/>
</g>
<g transform="translate(217.40 1145.15) scale(1 1.0250)">
<text x="-38.93" y="0" font-size="70.00" fill="#262626">2</text>
</g>
<g transform="translate(217.40 990.90) scale(1 1.0250)">
<text x="-38.93" y="0" font-size="70.00" fill="#262626">3</text>
</g>
<g transform="translate(240.50 1674.30) scale(1 1.0250)">
<text x="-19.47" y="0" font-size="70.00" fill="#262626">0</text>
</g>
<g transform="translate(603.30 1674.30) scale(1 1.0250)">
<text x="-17.37" y="0" font-size="70.00" fill="#262626">1</text>
<rect x="-13.23" y="-7.43" width="13.27" height="8.63" fill="#fff"/>
<rect x="6.62" y="-7.43" width="12.72" height="8.63" fill="#fff"/>
</g>
<g transform="translate(966.10 1674.30) scale(1 1.0250)">
<text x="-19.47" y="0" font-size="70.00" fill="#262626">2</text>
</g>
<g transform="translate(1328.90 1674.30) scale(1 1.0250)">
<text x="-19.47" y="0" font-size="70.00" fill="#262626">3</text>
</g>
<g transform="translate(1691.70 1674.30) scale(1 1.0250)">
<text x="-19.47" y="0" font-size="70.00" fill="#262626">4</text>
</g>
<g transform="translate(2054.50 1674.30) scale(1 1.0250)">
<text x="-19.47" y="0" font-size="70.00" fill="#262626">5</text>
</g>
<text transform="translate(1147.20 945.80) scale(1 1.0400)" text-anchor="middle" font-size="70.00" font-weight="bold" fill="#000">Identification error</text>
<text transform="translate(1147.30 1764.80) scale(1 1.0400)" text-anchor="middle" font-size="70.00" font-weight="normal" fill="#262626">t [min]</text>
<text transform="translate(267.20 950.70)" text-anchor="middle" font-size="64.80" font-weight="200" fill="#262626" style='font-family:"DejaVu Sans Light", "DejaVu Sans", "Liberation Sans", sans-serif'>×</text>
<g transform="translate(294.60 948.70) scale(1 1.0400)">
<text x="2.10 38.93" y="0" font-size="70.00" fill="#262626">10</text>
<rect x="6.23" y="-7.43" width="13.27" height="8.63" fill="#fff"/>
<rect x="26.09" y="-7.43" width="12.72" height="8.63" fill="#fff"/>
</g>
<text transform="translate(373.00 914.20) scale(1 1.0400)" text-anchor="start" font-size="56.00" font-weight="normal" fill="#262626">-3</text>
</svg></body></html>
